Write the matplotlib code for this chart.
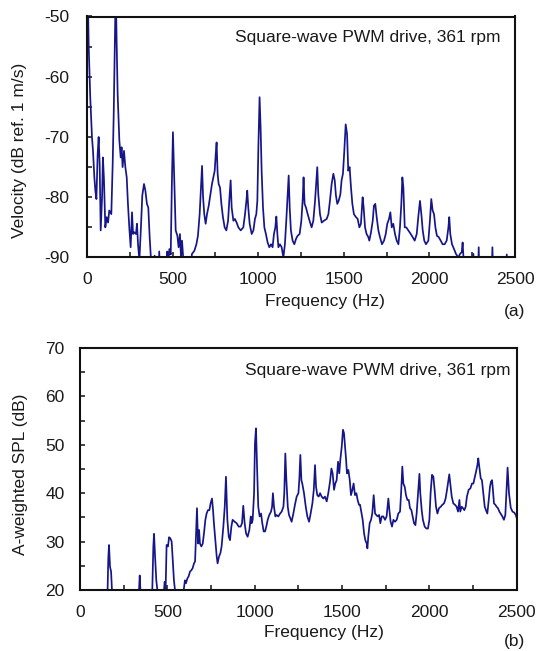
import matplotlib
matplotlib.use("Agg")
import matplotlib.pyplot as plt
from matplotlib.ticker import MultipleLocator

plt.rcParams['font.family'] = ['Liberation Sans', 'DejaVu Sans']
plt.rcParams['axes.unicode_minus'] = False

# ---------------- data: panel (a) ----------------
freq_a = [0, 4, 10, 19, 29, 35, 43, 49, 55, 62, 68, 74, 80, 88, 93, 99, 107, 115, 123, 130,
          142, 150, 156, 162, 168, 173, 179, 189, 197, 202, 208, 216, 224, 232, 239, 247, 255,
          263, 269, 276, 286, 292, 298, 306, 315, 323, 333, 341, 350, 358, 366, 374, 384, 395,
          402, 415, 422, 428, 460, 469, 475, 481, 489, 496, 502, 510, 518, 528, 535, 543, 549,
          555, 563, 570, 600, 608, 613, 627, 639, 648, 658, 666, 672, 678, 685, 693, 701, 711,
          720, 730, 738, 746, 752, 757, 763, 769, 777, 785, 794, 804, 814, 824, 831, 839, 845,
          855, 864, 874, 884, 898, 913, 923, 931, 936, 942, 950, 962, 972, 981, 989, 995, 1001,
          1008, 1014, 1020, 1028, 1036, 1045, 1055, 1065, 1075, 1084, 1092, 1100, 1106, 1112,
          1118, 1127, 1137, 1147, 1156, 1164, 1172, 1178, 1184, 1191, 1201, 1211, 1221, 1230,
          1242, 1252, 1260, 1265, 1271, 1279, 1289, 1300, 1312, 1322, 1332, 1340, 1345, 1351,
          1361, 1371, 1384, 1400, 1410, 1419, 1429, 1439, 1447, 1454, 1462, 1470, 1480, 1487,
          1495, 1503, 1511, 1519, 1526, 1534, 1542, 1550, 1559, 1571, 1581, 1591, 1600, 1610,
          1616, 1624, 1633, 1643, 1649, 1659, 1669, 1676, 1684, 1692, 1702, 1711, 1723, 1735,
          1745, 1754, 1764, 1772, 1780, 1789, 1799, 1809, 1819, 1828, 1836, 1842, 1848, 1856,
          1865, 1877, 1891, 1902, 1914, 1926, 1935, 1945, 1953, 1961, 1970, 1980, 1994, 2003,
          2011, 2019, 2027, 2035, 2044, 2054, 2066, 2077, 2089, 2101, 2111, 2116, 2122, 2132,
          2144, 2155, 2169, 2179, 2189, 2194, 2200, 2208, 2250, 2257, 2263, 2282, 2288, 2294,
          2362, 2368, 2374, 2446, 2452, 2458, 2500]
vel_a = [-52, -45, -55, -63.4, -70, -72.3, -76.7, -79, -80.3, -73, -70, -74.5, -85.5, -80, -73.4,
         -77, -85, -83.3, -84.2, -82.2, -82.8, -74.5, -66.2, -55, -45, -54, -62.9, -70.6, -73.4,
         -71.7, -75, -72.3, -75, -76.7, -81, -85, -88.3, -82.5, -86.1, -85.8, -86.1, -84.4,
         -87.8, -90.5, -85, -79.7, -77.8, -78.9, -81.1, -81.7, -86.6, -90.5, -95, -89.7, -95,
         -95, -89, -95, -95, -89, -91, -88.6, -89.5, -77.2, -69.2, -77.2, -85.5, -86.4, -88.3,
         -86.1, -90, -87.2, -90.5, -95, -95, -91, -89.4, -88.9, -87.8, -86.4, -82.8, -78.4,
         -74.8, -80, -82.8, -84.4, -82.8, -81.4, -79.7, -77.8, -76.7, -75.6, -72.8, -70.9,
         -76.1, -77.8, -78.4, -81.1, -83.3, -85, -85.5, -83.9, -80.6, -77.2, -81.7, -83.9,
         -83.6, -84.2, -85, -85.5, -85, -82.8, -80.6, -78.9, -81.7, -84.4, -86.1, -85.5, -83.6,
         -82.8, -80.6, -71.7, -63.4, -68.4, -75.6, -81.7, -85, -86.1, -87.5, -88.3, -87.8,
         -88.3, -86.1, -85, -83.2, -86.1, -88.3, -87.8, -88.3, -90, -87.8, -83.9, -79.5, -76.4,
         -81.7, -85.5, -87.2, -87.8, -86.9, -86.4, -86.1, -83.9, -80.3, -76.7, -81.1, -81.7,
         -82.8, -83.9, -85, -83.9, -80.6, -77.2, -75, -79.5, -82.8, -84.2, -83.9, -83.6, -82.8,
         -80.6, -77.8, -76.1, -77.2, -79.7, -81.1, -80.6, -79.5, -77.2, -76.1, -72.3, -67.9,
         -69.5, -75.6, -75, -78.4, -81.1, -82.8, -83.3, -83.6, -85, -84.4, -80, -81.7, -85,
         -86.1, -86.6, -87.2, -85.8, -83.9, -81.4, -81.1, -83.3, -85.5, -86.6, -87.8, -87.2,
         -86.1, -84.4, -83.6, -82.5, -85, -84.4, -86.1, -87.2, -87.8, -85, -81.1, -76.7, -78.4,
         -85, -85, -85.5, -86.1, -86.6, -87.2, -86.1, -83.3, -80.6, -82.8, -85.5, -87.2, -87.8,
         -87.2, -83.9, -80.3, -82.2, -82.8, -85, -86.4, -86.6, -87.2, -87.8, -87.8, -87.2, -85,
         -83.3, -86.1, -87.8, -88.6, -89.4, -90, -89.4, -89.1, -87.5, -90.5, -95, -95, -89.4,
         -95, -95, -88.3, -95, -95, -88.3, -95, -95, -89.5, -95, -95]

# ---------------- data: panel (b) ----------------
freq_b = [150, 158, 162, 166, 172, 178, 183, 188, 334, 338, 342, 346, 350, 410, 414, 420, 424,
          430, 437, 443, 447, 477, 481, 485, 490, 496, 504, 510, 517, 525, 531, 538, 544, 548,
          590, 594, 601, 607, 615, 622, 630, 638, 645, 653, 659, 664, 670, 676, 682, 687, 695,
          703, 710, 718, 725, 733, 741, 748, 756, 762, 767, 775, 783, 788, 796, 804, 811, 821,
          829, 836, 844, 852, 859, 867, 874, 886, 897, 909, 920, 928, 935, 943, 951, 960, 970,
          978, 983, 989, 997, 1002, 1008, 1014, 1021, 1029, 1037, 1044, 1052, 1060, 1067, 1075,
          1084, 1094, 1100, 1105, 1111, 1119, 1126, 1136, 1146, 1155, 1165, 1170, 1176, 1182,
          1190, 1197, 1205, 1212, 1222, 1231, 1241, 1251, 1256, 1262, 1268, 1273, 1283, 1293,
          1302, 1312, 1321, 1331, 1339, 1346, 1352, 1359, 1367, 1375, 1384, 1394, 1403, 1413,
          1422, 1432, 1440, 1447, 1455, 1462, 1470, 1478, 1485, 1491, 1499, 1506, 1512, 1518,
          1524, 1529, 1537, 1545, 1552, 1560, 1567, 1575, 1583, 1590, 1598, 1604, 1611, 1619,
          1627, 1634, 1642, 1646, 1651, 1659, 1667, 1674, 1682, 1690, 1697, 1705, 1713, 1720,
          1728, 1737, 1747, 1756, 1766, 1772, 1779, 1787, 1795, 1804, 1814, 1823, 1833, 1840,
          1846, 1852, 1860, 1867, 1875, 1883, 1890, 1898, 1905, 1913, 1921, 1928, 1936, 1944,
          1949, 1957, 1964, 1974, 1984, 1993, 2001, 2008, 2016, 2024, 2031, 2039, 2047, 2056,
          2066, 2075, 2085, 2094, 2102, 2110, 2115, 2121, 2129, 2138, 2148, 2157, 2165, 2173,
          2178, 2186, 2194, 2201, 2209, 2216, 2226, 2236, 2245, 2253, 2260, 2268, 2276, 2281,
          2287, 2295, 2302, 2310, 2318, 2325, 2333, 2341, 2348, 2354, 2360, 2365, 2371, 2379,
          2386, 2394, 2402, 2409, 2419, 2428, 2436, 2443, 2449, 2457, 2467, 2477, 2487, 2496, 2500]
spl_b = [15, 20, 26.5, 29.3, 24.8, 23.8, 20, 15, 15, 20, 23, 20, 15, 15, 20, 29, 31.6, 26.9, 22,
         20, 15, 15, 20, 21.7, 19.5, 29.3, 29, 30.9, 30.7, 30, 26.2, 22, 20, 15, 15, 20, 22, 21.4,
         22.4, 22.8, 23.8, 24.1, 24.5, 25.5, 25.9, 31, 36.9, 29.6, 32.4, 29.6, 29, 29.6, 31.7,
         34.5, 35.8, 36.5, 36.5, 37.9, 38.9, 36.5, 33.8, 30.3, 26.9, 25.5, 26.9, 27.6, 29, 33.1,
         37.2, 43.4, 34.5, 31, 30.3, 33.1, 34.5, 34.1, 33.8, 33.1, 33.1, 33.8, 37.4, 33.8, 31.7,
         31, 32.4, 35.2, 33.8, 34.5, 40, 50.3, 53.4, 45.5, 37.2, 35.2, 35.8, 33.8, 32.1, 32.1,
         33.1, 34.5, 35.5, 36.2, 37.2, 40, 37.2, 35.2, 35.5, 35.2, 35.8, 36.2, 37.2, 40, 48.2,
         42.7, 37.2, 35.5, 34.8, 34.1, 35.8, 37.6, 39.3, 40, 42.7, 47.9, 42.7, 42, 40, 37.2,
         35.2, 34.1, 35.8, 37.9, 40.7, 45.8, 41.3, 39.6, 39.3, 40, 39.3, 38.9, 39.3, 38.3, 40,
         42.4, 45.1, 44.1, 40.7, 42, 42.7, 46.5, 44.1, 46.9, 49.6, 53.1, 52.4, 49.6, 46.9, 44.1,
         44.8, 42.7, 39.6, 40.7, 42, 39.6, 40, 38.6, 37.6, 37.6, 36.2, 34.5, 31.7, 30.3, 29.6,
         28.6, 31, 33.8, 34.5, 35.8, 39.6, 35.8, 35.5, 35.2, 35.5, 33.8, 35.2, 35.2, 34.5, 35.2,
         38.9, 36.5, 34.1, 33.1, 34.5, 34.1, 34.5, 35.8, 36.2, 40.7, 45.5, 42, 41.3, 39.6, 38.6,
         38.6, 36.9, 36.5, 35.2, 33.8, 33.4, 35.8, 40, 44, 40, 36.5, 34.5, 33.1, 32.7, 32.7,
         34.5, 40, 43.8, 43.4, 40.7, 37.2, 35.8, 36.9, 37.2, 37.6, 37.9, 38.9, 40.7, 42.7, 43.9,
         42, 39.3, 37.9, 37.6, 37.2, 36.2, 38.6, 36.2, 37.2, 36.9, 36.5, 37.2, 39.3, 40.7, 41,
         42, 42, 43.1, 44.4, 45.8, 47.2, 45.5, 43.1, 42.7, 40, 37.2, 36.5, 35.8, 38.6, 41.3,
         42.4, 42.7, 40.7, 37.9, 37.6, 37.2, 36.9, 36.2, 35.8, 35.2, 34.5, 35.5, 41, 45.3, 40,
         37, 36.2, 36, 35.5, 35]

label_text = "Square-wave PWM drive, 361 rpm"
xlabel = "Frequency (Hz)"
ylabel_a = "Velocity (dB ref. 1 m/s)"
ylabel_b = "A-weighted SPL (dB)"

# ---------------- figure ----------------
W, H = 537, 651
fig = plt.figure(figsize=(W / 100, H / 100), dpi=100)

def ax_rect(l, r, t, b):
    return [l / W, 1 - b / H, (r - l) / W, (b - t) / H]

line_color = '#16168a'
txt_color = '#1a1a1a'
fs = 12.5

def style(ax, ypad):
    for s in ax.spines.values():
        s.set_linewidth(1.5)
        s.set_color('#111111')
    ax.xaxis.set_major_locator(MultipleLocator(500))
    ax.xaxis.set_minor_locator(MultipleLocator(250))
    ax.yaxis.set_major_locator(MultipleLocator(10))
    ax.yaxis.set_minor_locator(MultipleLocator(5))
    ax.tick_params(which='both', direction='in', length=3.5, width=1.1,
                   top=False, right=False, labelsize=fs, labelcolor=txt_color,
                   color='#111111')
    ax.tick_params(axis='x', which='major', pad=10.5)
    ax.tick_params(axis='y', which='major', pad=ypad)

# panel (a)
axa = fig.add_axes(ax_rect(87, 515, 16.5, 257.5))
axa.plot(freq_a, vel_a, color=line_color, lw=1.25)
axa.set_xlim(0, 2500)
axa.set_ylim(-90, -50)
style(axa, 12.5)
axa.set_xlabel(xlabel, fontsize=fs, color=txt_color)
axa.set_ylabel(ylabel_a, fontsize=fs, color=txt_color)
axa.xaxis.set_label_coords(0.556, -0.151)
axa.yaxis.set_label_coords(-0.140, 0.446)
axa.text(0.965, 0.911, label_text, transform=axa.transAxes, ha='right', va='center',
         fontsize=fs, color=txt_color)
axa.text(0.998, -0.226, "(a)", transform=axa.transAxes, ha='center', va='center',
         fontsize=fs, color=txt_color)

# panel (b)
axb = fig.add_axes(ax_rect(80, 516.5, 348, 590))
axb.plot(freq_b, spl_b, color=line_color, lw=1.25)
axb.set_xlim(0, 2500)
axb.set_ylim(20, 70)
style(axb, 11)
axb.set_xlabel(xlabel, fontsize=fs, color=txt_color)
axb.set_ylabel(ylabel_b, fontsize=fs, color=txt_color)
axb.xaxis.set_label_coords(0.559, -0.145)
axb.yaxis.set_label_coords(-0.119, 0.477)
axb.text(0.987, 0.909, label_text, transform=axb.transAxes, ha='right', va='center',
         fontsize=fs, color=txt_color)
axb.text(0.995, -0.214, "(b)", transform=axb.transAxes, ha='center', va='center',
         fontsize=fs, color=txt_color)

fig.savefig("out.png", dpi=100)
